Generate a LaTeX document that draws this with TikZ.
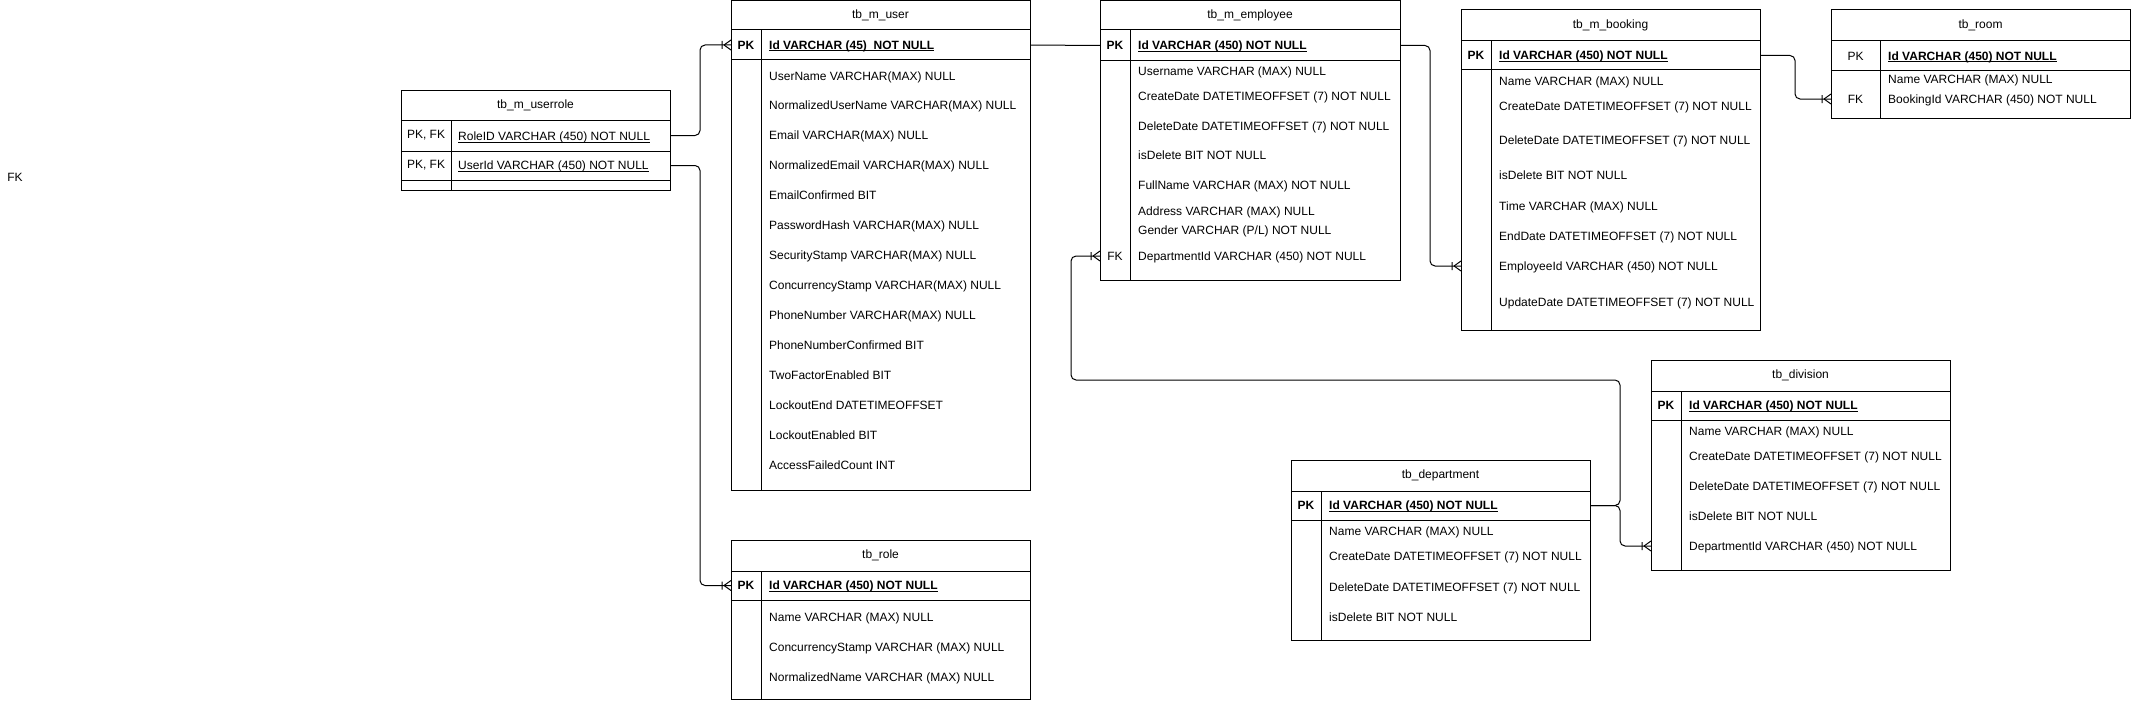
\documentclass[tikz,border=0pt]{standalone}
\usepackage{fontspec}
\setmainfont{Liberation Sans}
\usetikzlibrary{positioning}

\newcommand\tabfont{\fontsize{12}{14}\selectfont}
\newcommand\keyline[1]{\setbox0\hbox{#1}\rlap{\rule[-2pt]{\wd0}{0.8pt}}\box0}

\tikzset{
  tbl/.style={draw, line width=1pt, inner sep=0pt, outer sep=0pt, anchor=north west},
  tblhead/.style={tbl, font=\tabfont},
  tblrow/.style={tbl},
  keycell/.style={tbl, font=\tabfont\bfseries},
  fkcell/.style={font=\tabfont, inner sep=0pt},
  field/.style={font=\tabfont, anchor=west, inner sep=0pt, text height=8.6pt, text depth=0pt},
  pkfield/.style={field, font=\tabfont\bfseries},
  link/.style={line width=1pt, rounded corners=5pt},
  crowfoot/.pic={\draw[line width=1pt] (-7,0) -- (0,-5) (-7,0) -- (0,5) (-9,-4) -- (-9,4);}
}

\begin{document}
\begin{tikzpicture}[x=1pt, y=-1pt]
    \useasboundingbox (0,0) rectangle (2131,701);

    \node[fkcell] (stray) at (15,177) {FK};

    % tb_m_userrole
    \node[tblhead, minimum width=269pt, minimum height=30pt] (urole) at (401,90) {tb\_m\_userrole};
    \node[tblrow, minimum width=269pt, minimum height=31pt, below=0pt of urole] (urole-r1) {};
    \node[tblrow, minimum width=269pt, minimum height=29pt, below=0pt of urole-r1] (urole-r2) {};
    \node[tblrow, minimum width=269pt, minimum height=10pt, below=0pt of urole-r2] (urole-r3) {};
    \node[keycell, font=\tabfont, minimum width=50pt, minimum height=31pt] (urole-k1) at (urole-r1.north west) {PK, FK};
    \node[keycell, font=\tabfont, minimum width=50pt, minimum height=29pt] (urole-k2) at (urole-r2.north west) {PK, FK};
    \node[keycell, minimum width=50pt, minimum height=10pt] (urole-k3) at (urole-r3.north west) {};
    \node[field] (urole-role) at (458,136) {\keyline{RoleID VARCHAR (450) NOT NULL}};
    \node[field] (urole-user) at (458,165) {\keyline{UserId VARCHAR (450) NOT NULL}};

    % tb_m_user
    \node[tblhead, minimum width=299pt, minimum height=29pt] (user) at (731,1) {tb\_m\_user};
    \node[tblrow, minimum width=299pt, minimum height=30pt, below=0pt of user] (user-pk) {};
    \node[keycell, minimum width=30pt, minimum height=30pt] (user-pkkey) at (user-pk.north west) {PK};
    \node[pkfield] (user-id) at (769,45) {\keyline{Id VARCHAR (45)\ \ NOT NULL}};
    \node[tblrow, minimum width=299pt, minimum height=430pt, below=0pt of user-pk] (user-body) {};
    \node[tblrow, minimum width=30pt, minimum height=430pt] (user-key) at (user-body.north west) {};
    \foreach \y/\t [count=\i] in {76/{UserName VARCHAR(MAX) NULL}, 105/{NormalizedUserName VARCHAR(MAX) NULL},
        135/{Email VARCHAR(MAX) NULL}, 165/{NormalizedEmail VARCHAR(MAX) NULL}, 195/{EmailConfirmed BIT},
        225/{PasswordHash VARCHAR(MAX) NULL}, 255/{SecurityStamp VARCHAR(MAX) NULL},
        285/{ConcurrencyStamp VARCHAR(MAX) NULL}, 315/{PhoneNumber VARCHAR(MAX) NULL},
        345/{PhoneNumberConfirmed BIT}, 375/{TwoFactorEnabled BIT}, 405/{LockoutEnd DATETIMEOFFSET},
        435/{LockoutEnabled BIT}, 465/{AccessFailedCount INT}}
      \node[field] (user-f\i) at (769,\y) {\t};

    % tb_role
    \node[tblhead, minimum width=299pt, minimum height=31pt] (role) at (731,540) {tb\_role};
    \node[tblrow, minimum width=299pt, minimum height=29pt, below=0pt of role] (role-pk) {};
    \node[keycell, minimum width=30pt, minimum height=29pt] (role-pkkey) at (role-pk.north west) {PK};
    \node[pkfield] (role-id) at (769,585.5) {\keyline{Id VARCHAR (450) NOT NULL}};
    \node[tblrow, minimum width=299pt, minimum height=99pt, below=0pt of role-pk] (role-body) {};
    \node[tblrow, minimum width=30pt, minimum height=99pt] (role-key) at (role-body.north west) {};
    \foreach \y/\t [count=\i] in {617/{Name VARCHAR (MAX) NULL}, 647/{ConcurrencyStamp VARCHAR (MAX) NULL},
        677/{NormalizedName VARCHAR (MAX) NULL}}
      \node[field] (role-f\i) at (769,\y) {\t};

    % tb_m_employee
    \node[tblhead, minimum width=300pt, minimum height=29pt] (emp) at (1100,1) {tb\_m\_employee};
    \node[tblrow, minimum width=300pt, minimum height=31pt, below=0pt of emp] (emp-pk) {};
    \node[keycell, minimum width=30pt, minimum height=31pt] (emp-pkkey) at (emp-pk.north west) {PK};
    \node[pkfield] (emp-id) at (1138,45.5) {\keyline{Id VARCHAR (450) NOT NULL}};
    \node[tblrow, minimum width=300pt, minimum height=219pt, below=0pt of emp-pk] (emp-body) {};
    \node[tblrow, minimum width=30pt, minimum height=219pt] (emp-key) at (emp-body.north west) {};
    \foreach \y/\t [count=\i] in {71/{Username VARCHAR (MAX) NULL}, 96/{CreateDate DATETIMEOFFSET (7) NOT NULL},
        126/{DeleteDate DATETIMEOFFSET (7) NOT NULL}, 155/{isDelete BIT NOT NULL},
        185/{FullName VARCHAR (MAX) NOT NULL}, 211/{Address VARCHAR (MAX) NULL},
        230/{Gender VARCHAR (P/L) NOT NULL}, 256/{DepartmentId VARCHAR (450) NOT NULL}}
      \node[field] (emp-f\i) at (1138,\y) {\t};
    \node[fkcell] (emp-fkkey) at (1115,256) {FK};

    % tb_m_booking
    \node[tblhead, minimum width=299pt, minimum height=31pt] (book) at (1461,10) {tb\_m\_booking};
    \node[tblrow, minimum width=299pt, minimum height=29pt, below=0pt of book] (book-pk) {};
    \node[keycell, minimum width=30pt, minimum height=29pt] (book-pkkey) at (book-pk.north west) {PK};
    \node[pkfield] (book-id) at (1499,55.5) {\keyline{Id VARCHAR (450) NOT NULL}};
    \node[tblrow, minimum width=299pt, minimum height=260pt, below=0pt of book-pk] (book-body) {};
    \node[tblrow, minimum width=30pt, minimum height=260pt] (book-key) at (book-body.north west) {};
    \foreach \y/\t [count=\i] in {81/{Name VARCHAR (MAX) NULL}, 106/{CreateDate DATETIMEOFFSET (7) NOT NULL},
        140/{DeleteDate DATETIMEOFFSET (7) NOT NULL}, 175/{isDelete BIT NOT NULL},
        206/{Time VARCHAR (MAX) NULL}, 236/{EndDate DATETIMEOFFSET (7) NOT NULL},
        266/{EmployeeId VARCHAR (450) NOT NULL}, 302/{UpdateDate DATETIMEOFFSET (7) NOT NULL}}
      \node[field] (book-f\i) at (1499,\y) {\t};

    % tb_room
    \node[tblhead, minimum width=299pt, minimum height=31pt] (room) at (1831,10) {tb\_room};
    \node[tblrow, minimum width=299pt, minimum height=30pt, below=0pt of room] (room-pk) {};
    \node[keycell, font=\tabfont, minimum width=49pt, minimum height=30pt] (room-pkkey) at (room-pk.north west) {PK};
    \node[pkfield] (room-id) at (1888,56) {\keyline{Id VARCHAR (450) NOT NULL}};
    \node[tblrow, minimum width=299pt, minimum height=47pt, below=0pt of room-pk] (room-body) {};
    \node[tblrow, minimum width=49pt, minimum height=47pt] (room-key) at (room-body.north west) {};
    \foreach \y/\t [count=\i] in {79/{Name VARCHAR (MAX) NULL}, 99/{BookingId VARCHAR (450) NOT NULL}}
      \node[field] (room-f\i) at (1888,\y) {\t};
    \node[fkcell] (room-fkkey) at (1855.5,99) {FK};

    % tb_department
    \node[tblhead, minimum width=299pt, minimum height=31pt] (dept) at (1291,460) {tb\_department};
    \node[tblrow, minimum width=299pt, minimum height=29pt, below=0pt of dept] (dept-pk) {};
    \node[keycell, minimum width=30pt, minimum height=29pt] (dept-pkkey) at (dept-pk.north west) {PK};
    \node[pkfield] (dept-id) at (1329,505.5) {\keyline{Id VARCHAR (450) NOT NULL}};
    \node[tblrow, minimum width=299pt, minimum height=120pt, below=0pt of dept-pk] (dept-body) {};
    \node[tblrow, minimum width=30pt, minimum height=120pt] (dept-key) at (dept-body.north west) {};
    \foreach \y/\t [count=\i] in {531/{Name VARCHAR (MAX) NULL}, 556/{CreateDate DATETIMEOFFSET (7) NOT NULL},
        587/{DeleteDate DATETIMEOFFSET (7) NOT NULL}, 617/{isDelete BIT NOT NULL}}
      \node[field] (dept-f\i) at (1329,\y) {\t};

    % tb_division
    \node[tblhead, minimum width=299pt, minimum height=31pt] (div) at (1651,360) {tb\_division};
    \node[tblrow, minimum width=299pt, minimum height=29pt, below=0pt of div] (div-pk) {};
    \node[keycell, minimum width=30pt, minimum height=29pt] (div-pkkey) at (div-pk.north west) {PK};
    \node[pkfield] (div-id) at (1689,405.5) {\keyline{Id VARCHAR (450) NOT NULL}};
    \node[tblrow, minimum width=299pt, minimum height=150pt, below=0pt of div-pk] (div-body) {};
    \node[tblrow, minimum width=30pt, minimum height=150pt] (div-key) at (div-body.north west) {};
    \foreach \y/\t [count=\i] in {431/{Name VARCHAR (MAX) NULL}, 456/{CreateDate DATETIMEOFFSET (7) NOT NULL},
        486/{DeleteDate DATETIMEOFFSET (7) NOT NULL}, 516/{isDelete BIT NOT NULL},
        546/{DepartmentId VARCHAR (450) NOT NULL}}
      \node[field] (div-f\i) at (1689,\y) {\t};

    % relations
    \coordinate (bend) at (1071,380);
    \draw[link] (urole-r1.east) -- ++(30,0) |- (user-pk.west);
    \draw[link] (urole-r2.east) -- ++(30,0) |- (role-pk.west);
    \draw[link] (user-pk.east) -- (emp-pk.west);
    \draw[link] (emp-pk.east) -- ++(30,0) |- (book-body.west |- book-f7);
    \draw[link] (book-pk.east) -- ++(35,0) |- (room-body.west |- room-f2);
    \draw[link] (dept-pk.east) -- ++(30,0) |- (bend) |- (emp-body.west |- emp-f8);
    \draw[link] (dept-pk.east) -- ++(30,0) |- (div-body.west |- div-f5);

    \pic at (user-pk.west) {crowfoot};
    \pic at (role-pk.west) {crowfoot};
    \pic at (book-body.west |- book-f7) {crowfoot};
    \pic at (room-body.west |- room-f2) {crowfoot};
    \pic at (emp-body.west |- emp-f8) {crowfoot};
    \pic at (div-body.west |- div-f5) {crowfoot};

\end{tikzpicture}
\end{document}
